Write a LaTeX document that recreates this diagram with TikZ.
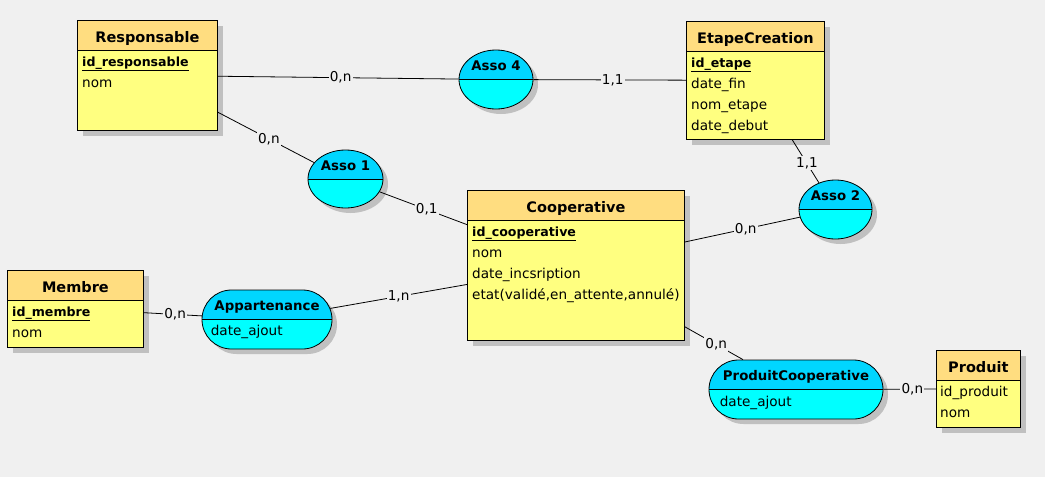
\documentclass[tikz,border=0pt]{standalone}
\usepackage{fontspec}
\setmainfont{DejaVu Sans}
\usetikzlibrary{shapes.geometric,shapes.misc,shadows}

\definecolor{bgcol}{RGB}{240,240,240}
\definecolor{entbody}{RGB}{255,255,128}
\definecolor{enthead}{RGB}{255,221,128}
\definecolor{assobody}{RGB}{0,255,255}
\definecolor{assohead}{RGB}{0,214,255}
\definecolor{shadowgray}{RGB}{192,192,192}

\begin{document}
\begin{tikzpicture}[x=1pt,y=-1pt,
    entity/.style={draw, line width=0.8pt, fill=entbody, anchor=north west, inner sep=0pt,
        drop shadow={shadow xshift=6pt, shadow yshift=-6pt, fill=shadowgray, opacity=1},
        path picture={\fill[enthead] (path picture bounding box.north west) rectangle ([yshift=-30pt]path picture bounding box.north east);
            \draw[line width=0.8pt] ([yshift=-30pt]path picture bounding box.north west) -- ([yshift=-30pt]path picture bounding box.north east);}},
    asso/.style={draw, line width=0.8pt, fill=assobody, inner sep=0pt,
        drop shadow={shadow xshift=5pt, shadow yshift=-5pt, fill=shadowgray, opacity=1},
        path picture={\fill[assohead] (path picture bounding box.north west) rectangle (path picture bounding box.east);
            \draw[line width=0.8pt] (path picture bounding box.west) -- (path picture bounding box.east);}},
    assoell/.style={asso, ellipse},
    assorr/.style={asso, rounded rectangle},
    title/.style={anchor=base, inner sep=0pt, font=\fontsize{14.5}{16}\selectfont\bfseries},
    assotitle/.style={anchor=base, inner sep=0pt, font=\fontsize{13.3}{15}\selectfont\bfseries},
    attr/.style={anchor=base west, inner sep=0pt, font=\fontsize{13.6}{16}\selectfont},
    idattr/.style={anchor=base west, inner sep=0pt, font=\fontsize{12.6}{15}\selectfont\bfseries},
    card/.style={fill=bgcol, inner sep=1.2pt, font=\fontsize{13.6}{16}\selectfont},
    link/.style={line width=0.8pt}]

    \fill[bgcol] (0,0) rectangle (1045,477);

    \node[entity, minimum width=140, minimum height=110] (resp) at (77,20) {};
    \node[title] (resp-t) at ([yshift=-22pt]resp.north) {Responsable};
    \node[idattr] (resp-1) at ([xshift=5pt,yshift=-46pt]resp.north west) {\underline{id\_responsable}};
    \node[attr] (resp-2) at ([xshift=5pt,yshift=-67pt]resp.north west) {nom};

    \node[entity, minimum width=138, minimum height=118] (etape) at (686,21) {};
    \node[title] (etape-t) at ([yshift=-22pt]etape.north) {EtapeCreation};
    \node[idattr] (etape-1) at ([xshift=5pt,yshift=-46pt]etape.north west) {\underline{id\_etape}};
    \node[attr] (etape-2) at ([xshift=5pt,yshift=-67pt]etape.north west) {date\_fin};
    \node[attr] (etape-3) at ([xshift=5pt,yshift=-88pt]etape.north west) {nom\_etape};
    \node[attr] (etape-4) at ([xshift=5pt,yshift=-109pt]etape.north west) {date\_debut};

    \node[entity, minimum width=217, minimum height=150] (coop) at (467,190) {};
    \node[title] (coop-t) at ([yshift=-22pt]coop.north) {Cooperative};
    \node[idattr] (coop-1) at ([xshift=5pt,yshift=-46pt]coop.north west) {\underline{id\_cooperative}};
    \node[attr] (coop-2) at ([xshift=5pt,yshift=-67pt]coop.north west) {nom};
    \node[attr] (coop-3) at ([xshift=5pt,yshift=-88pt]coop.north west) {date\_incsription};
    \node[attr] (coop-4) at ([xshift=5pt,yshift=-109pt]coop.north west) {etat(validé,en\_attente,annulé)};

    \node[entity, minimum width=136, minimum height=77] (membre) at (7,270) {};
    \node[title] (membre-t) at ([yshift=-22pt]membre.north) {Membre};
    \node[idattr] (membre-1) at ([xshift=5pt,yshift=-46pt]membre.north west) {\underline{id\_membre}};
    \node[attr] (membre-2) at ([xshift=5pt,yshift=-67pt]membre.north west) {nom};

    \node[entity, minimum width=84, minimum height=77] (produit) at (936,350) {};
    \node[title] (produit-t) at ([yshift=-22pt]produit.north) {Produit};
    \node[attr] (produit-1) at ([xshift=4pt,yshift=-46pt]produit.north west) {id\_produit};
    \node[attr] (produit-2) at ([xshift=4pt,yshift=-67pt]produit.north west) {nom};

    \node[assoell, minimum width=74, minimum height=59] (asso4) at (496,79.5) {};
    \node[assotitle] (asso4-t) at ([yshift=9pt]asso4.center) {Asso 4};

    \node[assoell, minimum width=75, minimum height=58] (asso1) at (345.5,179) {};
    \node[assotitle] (asso1-t) at ([yshift=9pt]asso1.center) {Asso 1};

    \node[assoell, minimum width=73, minimum height=59] (asso2) at (835.5,209.5) {};
    \node[assotitle] (asso2-t) at ([yshift=9pt]asso2.center) {Asso 2};

    \node[assorr, minimum width=130, minimum height=59] (appart) at (267,319.5) {};
    \node[assotitle] (appart-t) at ([yshift=9pt]appart.center) {Appartenance};
    \node[attr] (appart-1) at ([xshift=9pt,yshift=-16pt]appart.west) {date\_ajout};

    \node[assorr, minimum width=174, minimum height=59] (prodcoop) at (796,389.5) {};
    \node[assotitle] (prodcoop-t) at ([yshift=9pt]prodcoop.center) {ProduitCooperative};
    \node[attr] (prodcoop-1) at ([xshift=11pt,yshift=-17pt]prodcoop.west) {date\_ajout};

    \draw[link] (resp) -- (asso4) node[card, pos=0.51] {0,n};
    \draw[link] (asso4) -- (etape) node[card, pos=0.52] {1,1};
    \draw[link] (resp) -- (asso1) node[card, pos=0.53] {0,n};
    \draw[link] (asso1) -- (coop) node[card, pos=0.54] {0,1};
    \draw[link] (etape) -- (asso2) node[card, pos=0.55] {1,1};
    \draw[link] (coop) -- (asso2) node[card, pos=0.53] {0,n};
    \draw[link] (membre) -- (appart) node[card, pos=0.54] {0,n};
    \draw[link] (appart) -- (coop) node[card, pos=0.5] {1,n};
    \draw[link] (coop) -- (prodcoop) node[card, pos=0.54] {0,n};
    \draw[link] (prodcoop) -- (produit) node[card, pos=0.55] {0,n};
\end{tikzpicture}
\end{document}
